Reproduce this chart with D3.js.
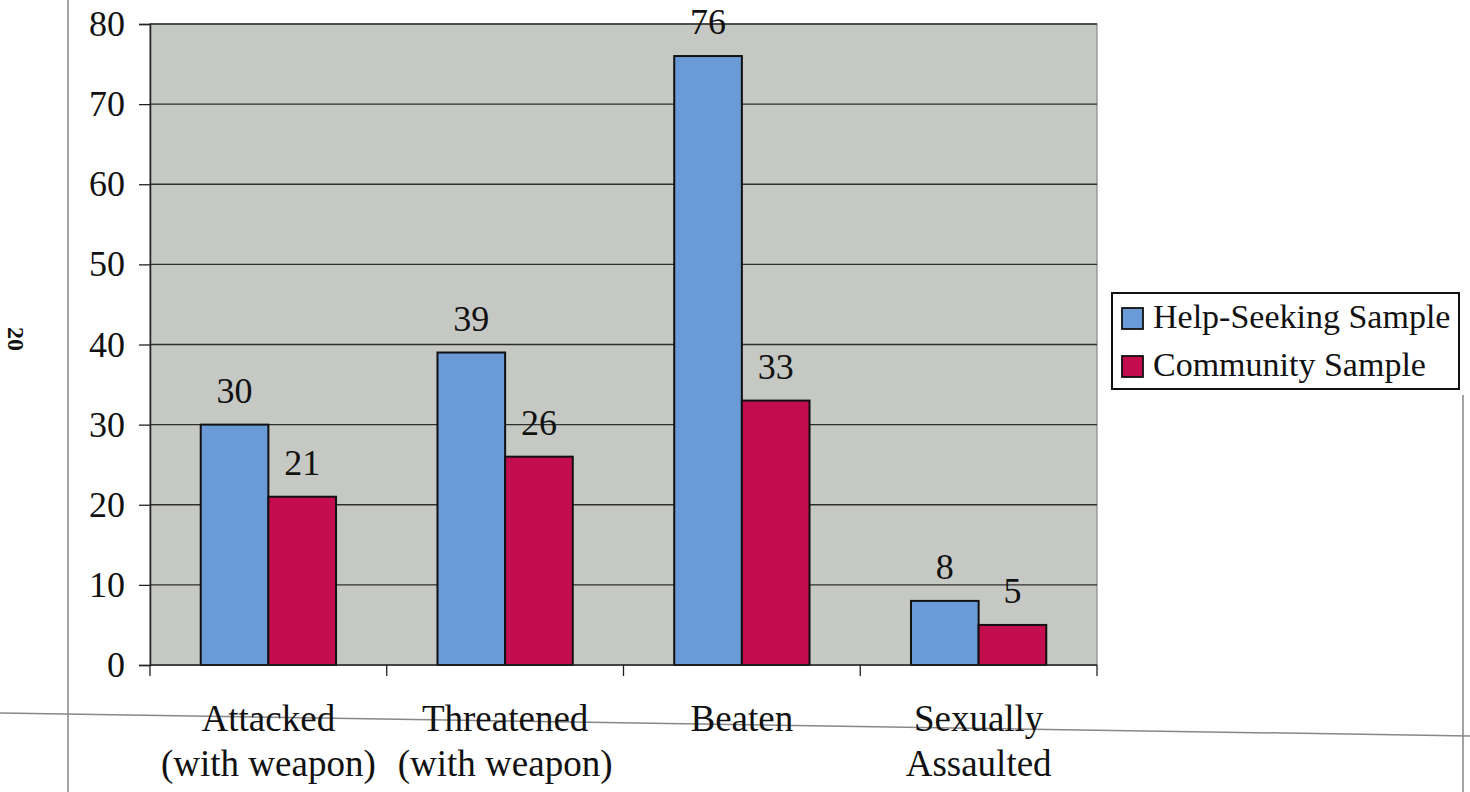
<!DOCTYPE html>
<html>
<head>
<meta charset="utf-8">
<script src="https://cdn.jsdelivr.net/npm/d3@7"></script>
<style>
  html, body { margin: 0; padding: 0; background: #fff; }
  svg { display: block; }
</style>
</head>
<body>
<svg id="chart" width="1470" height="792"></svg>
<script>
// Victimization experiences (%) by sample
const categories = [["Attacked", "(with weapon)"], ["Threatened", "(with weapon)"], ["Beaten"], ["Sexually", "Assaulted"]];
const seriesNames = ["Help-Seeking Sample", "Community Sample"];
const helpSeeking = [30, 39, 76, 8];
const community = [21, 26, 33, 5];
const yTicks = [0, 10, 20, 30, 40, 50, 60, 70, 80];
const seriesColors = ["#6b9bd6", "#c30d4e"];

const SERIF = "'Liberation Serif', 'Times New Roman', Times, serif";
const svg = d3.select("#chart");
const plot = { left: 150, right: 1097, top: 24, bottom: 665 };

// page rules and folio
svg.append("line").attr("x1", 68).attr("x2", 68).attr("y1", 0).attr("y2", 792)
  .attr("stroke", "#666").attr("stroke-width", 1.2);
svg.append("line").attr("x1", 1463).attr("x2", 1463).attr("y1", 395).attr("y2", 792)
  .attr("stroke", "#666").attr("stroke-width", 1.2);
svg.append("line").attr("x1", 0).attr("x2", 1470).attr("y1", 713).attr("y2", 736)
  .attr("stroke", "#888").attr("stroke-width", 1.5);
svg.append("text").attr("transform", "translate(8,339) rotate(90)")
  .attr("text-anchor", "middle").style("font-family", SERIF)
  .style("font-size", "24px").style("font-weight", "bold").attr("fill", "#111")
  .text("20");

const catKeys = categories.map((c, i) => i);
const x0 = d3.scaleBand().domain(catKeys).range([plot.left, plot.right]).padding(0);
const x1 = d3.scaleBand().domain(seriesNames).range([0, x0.bandwidth()])
  .paddingInner(0).paddingOuter(0.75);
const y = d3.scaleLinear().domain([0, 80]).range([plot.bottom, plot.top]);

// plot area
svg.append("rect").attr("x", plot.left).attr("y", plot.top)
  .attr("width", plot.right - plot.left).attr("height", plot.bottom - plot.top)
  .attr("fill", "#c6c9c3").attr("stroke", "#8a8a8a").attr("stroke-width", 1.2);

// gridlines
svg.append("g").selectAll("line").data(yTicks.filter(t => t > 0)).join("line")
  .attr("x1", plot.left).attr("x2", plot.right)
  .attr("y1", d => y(d)).attr("y2", d => y(d))
  .attr("stroke", "#2e2e2e").attr("stroke-width", 1.4);

// y axis
const yAxis = svg.append("g").attr("transform", `translate(${plot.left},0)`)
  .call(d3.axisLeft(y).tickValues(yTicks).tickSize(11).tickPadding(14));
yAxis.select(".domain").attr("stroke", "#222").attr("stroke-width", 1.5);
yAxis.selectAll(".tick line").attr("stroke", "#222").attr("stroke-width", 1.3);
yAxis.selectAll(".tick text").style("font-size", "36px")
  .style("font-family", SERIF).attr("fill", "#111");

// bars
const data = catKeys.map(i => ({ i, values: [helpSeeking[i], community[i]] }));
const groups = svg.append("g").selectAll("g").data(data).join("g")
  .attr("transform", d => `translate(${x0(d.i)},0)`);
groups.selectAll("rect").data(d => d.values.map((v, k) => ({ v, k }))).join("rect")
  .attr("x", d => x1(seriesNames[d.k]))
  .attr("y", d => y(d.v))
  .attr("width", x1.bandwidth())
  .attr("height", d => y(0) - y(d.v))
  .attr("fill", d => seriesColors[d.k])
  .attr("stroke", "#111").attr("stroke-width", 2);
groups.selectAll("text").data(d => d.values.map((v, k) => ({ v, k }))).join("text")
  .attr("x", d => x1(seriesNames[d.k]) + x1.bandwidth() / 2)
  .attr("y", d => y(d.v) - 22)
  .attr("text-anchor", "middle").attr("fill", "#111")
  .style("font-family", SERIF).style("font-size", "36px")
  .text(d => d.v);

// x axis
const xAxis = svg.append("g").attr("transform", `translate(0,${plot.bottom})`);
xAxis.append("line").attr("x1", plot.left).attr("x2", plot.right)
  .attr("stroke", "#222").attr("stroke-width", 1.5);
const boundaries = catKeys.map(i => x0(i)).concat([plot.right]);
xAxis.selectAll("line.tk").data(boundaries).join("line").attr("class", "tk")
  .attr("x1", d => d).attr("x2", d => d).attr("y1", 0).attr("y2", 11)
  .attr("stroke", "#222").attr("stroke-width", 1.3);
const labels = xAxis.selectAll("text").data(categories.map((c, i) => ({ c, i }))).join("text")
  .attr("text-anchor", "middle").attr("fill", "#111")
  .style("font-family", SERIF).style("font-size", "37px")
  .attr("x", d => x0(d.i) + x0.bandwidth() / 2);
labels.selectAll("tspan").data(d => d.c.map(line => ({ line, x: x0(d.i) + x0.bandwidth() / 2 }))).join("tspan")
  .attr("x", d => d.x)
  .attr("y", (d, j) => 66 + j * 45)
  .text(d => d.line);

// legend
const legend = svg.append("g");
legend.append("rect").attr("x", 1112).attr("y", 293).attr("width", 347).attr("height", 96)
  .attr("fill", "#fff").attr("stroke", "#111").attr("stroke-width", 2);
const items = legend.selectAll("g").data(seriesNames).join("g")
  .attr("transform", (d, k) => `translate(1122,${308 + k * 48})`);
items.append("rect").attr("width", 21).attr("height", 21)
  .attr("fill", (d, k) => seriesColors[k]).attr("stroke", "#111").attr("stroke-width", 1.8);
items.append("text").attr("x", 31).attr("y", 20).attr("fill", "#111")
  .style("font-family", SERIF).style("font-size", "34px").text(d => d);
</script>
</body>
</html>
